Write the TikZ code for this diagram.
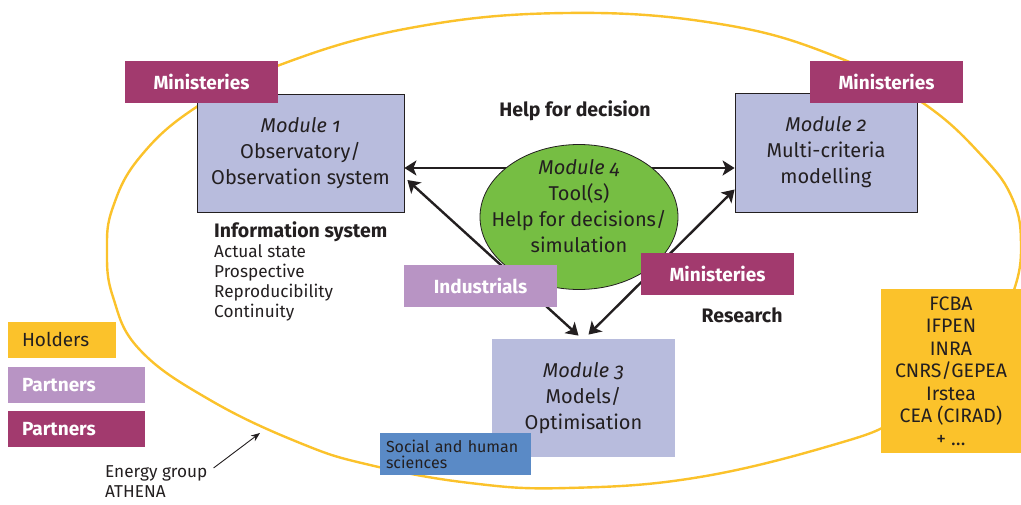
\documentclass[tikz,border=0pt]{standalone}
\usepackage{fontspec}
\setmainfont{Fira Sans}[Numbers=OldStyle]
\usetikzlibrary{arrows.meta,shapes.geometric}
\pgfdeclarelayer{bg}
\pgfsetlayers{bg,main}
\definecolor{ink}{HTML}{231F20}
\definecolor{plum}{HTML}{A23A6E}
\definecolor{lilac}{HTML}{B894C4}
\definecolor{lavender}{HTML}{B8BCDD}
\definecolor{leaf}{HTML}{76BE43}
\definecolor{amber}{HTML}{FBC22B}
\definecolor{sky}{HTML}{5A8AC6}
\tikzstyle{module}=[fill=lavender, draw=ink, line width=0.8pt, shape=rectangle, inner sep=0pt, align=center, text=ink, font=\fontsize{20}{26}\selectfont]
\tikzstyle{tool}=[fill=leaf, draw=ink, line width=0.8pt, shape=ellipse, inner sep=0pt, minimum width=198pt, minimum height=145pt]
\tikzstyle{tag}=[shape=rectangle, inner sep=0pt, minimum width=153pt, minimum height=42pt, text=white, font=\bfseries\fontsize{19}{22}\selectfont]
\tikzstyle{key}=[shape=rectangle, inner ysep=0pt, inner xsep=14pt, minimum height=36pt, align=left, font=\fontsize{19}{22}\selectfont]
\tikzstyle{lbl}=[text=ink, font=\bfseries\fontsize{19.5}{22}\selectfont]
\tikzstyle{txt}=[text=ink, inner sep=0pt, align=left, font=\fontsize{17.2}{20}\selectfont]
\tikzstyle{link}=[ink, line width=2.4pt]
\tikzstyle{pointer}=[ink, line width=0.9pt, -{Stealth[length=9pt,width=7pt]}]
\tikzstyle{rim}=[amber, line width=2.4pt]
\tikzset{>={Stealth[length=12pt,width=15pt,inset=3pt]}}

\begin{document}
\begin{tikzpicture}[x=1pt, y=-1pt]
    \useasboundingbox (0,0) rectangle (1021,504);
    \begin{pgfonlayer}{bg}
        \draw [rim] plot [smooth cycle, tension=0.7] coordinates {
            (107,250) (113,207) (140,157) (195,108) (277,66) (410,28)
            (566,13) (720,24) (837,57) (923,103) (983,157) (1013,200)
            (1021,245) (1014,290) (990,340) (950,385) (900,418) (843,442)
            (700,477) (567,488) (470,483) (370,465) (300,443) (210,400)
            (140,350) (113,297)};
    \end{pgfonlayer}

    % modules
    \node [module, minimum width=207pt, minimum height=118pt] (m1) at (300.5,153) {\textit{Module 1}\\Observatory/\\Observation system};
    \node [module, minimum width=182pt, minimum height=119pt] (m2) at (826,152.5) {\textit{Module 2}\\Multi-criteria\\modelling};
    \node [module, draw=none, minimum width=183pt, minimum height=118pt] (m3) at (583.5,398) {\textit{Module 3}\\Models/\\Optimisation};
    \node [tool] (m4) at (579,217) {};
    \node [module, fill=none, draw=none] (m4t) at ([yshift=11pt]m4.center) {\textit{Module 4}\\Tool(s)\\Help for decisions/\\simulation};

    % actors
    \node [tag, fill=plum] (min1) at (201.5,81.5) {Ministeries};
    \node [tag, fill=plum] (min2) at (886.5,81.5) {Ministeries};
    \node [tag, fill=plum] (min3) at (717.5,274) {Ministeries};
    \node [tag, fill=lilac] (ind) at (480.5,286) {Industrials};
    \node [shape=rectangle, fill=sky, text=ink, inner xsep=6pt, inner ysep=0pt, minimum height=42pt, text width=139pt, align=left, font=\fontsize{16}{16}\selectfont] (shs) at (455.5,454) {Social and human\\sciences};
    \node [shape=rectangle, fill=amber, text=ink, inner sep=0pt, minimum width=140pt, minimum height=164pt, align=center, font=\fontsize{19.5}{22.5}\selectfont] (hold) at (951,371) {FCBA\\IFPEN\\INRA\\CNRS/GEPEA\\Irstea\\CEA (CIRAD)\\+ \dots};

    % labels
    \node [lbl] (help) at (575,111) {Help for decision};
    \node [lbl] (res) at (742,315) {Research};
    \node [txt, anchor=north west] (info) at (214,221) {{\bfseries\fontsize{19.5}{20}\selectfont Information system}\\Actual state\\Prospective\\Reproducibility\\Continuity};

    % legend
    \node [key, fill=amber, text=ink, text width=80pt] (k1) at (62,339.5) {Holders};
    \node [key, fill=lilac, text=white, text width=109pt, font=\bfseries\fontsize{19}{22}\selectfont] (k2) at (76.5,385) {Partners};
    \node [key, fill=plum, text=white, text width=109pt, font=\bfseries\fontsize{19}{22}\selectfont] (k3) at (76.5,429) {Partners};

    \node [txt, anchor=north west] (athena) at (105,465) {Energy group\\ATHENA};
    \coordinate (edge) at (260,433);
    \draw [pointer] ([xshift=6pt,yshift=-3pt]athena.north east) -- (edge);

    \begin{pgfonlayer}{bg}
        \draw [link, ->] ([yshift=49pt]m4.center) -- ([yshift=-15pt]m1.east);
        \draw [link, ->] ([yshift=49pt]m4.center) -- ([yshift=-15.5pt]m2.west);
        \draw [link, <->] ([xshift=3pt,yshift=-27pt]m1.east) -- ([xshift=-5pt,yshift=3pt]m3.north);
        \draw [link, <->] ([yshift=-37pt]m2.west) -- ([xshift=5pt,yshift=4pt]m3.north);
    \end{pgfonlayer}
\end{tikzpicture}
\end{document}
